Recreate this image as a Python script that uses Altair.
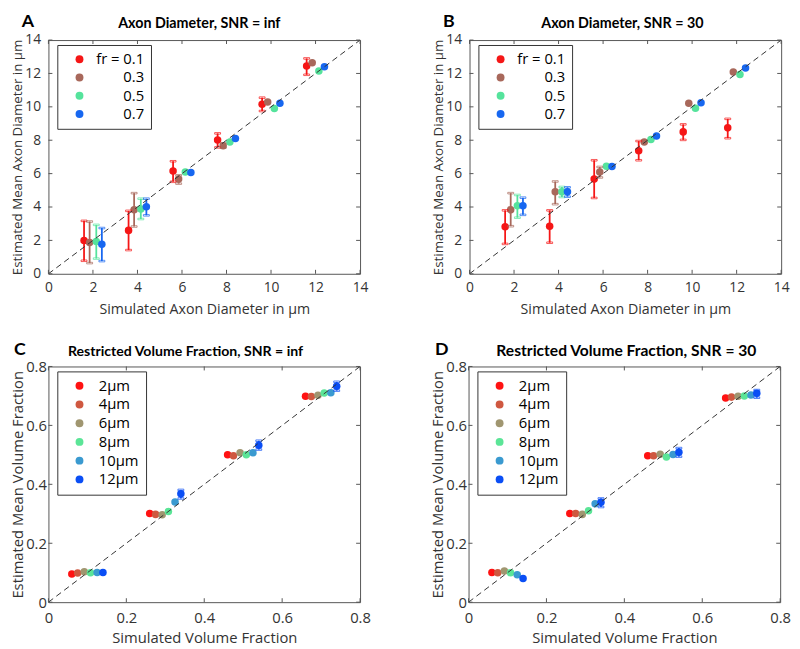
import altair as alt
import pandas as pd

# ---------------- Panels A / B : axon diameter ----------------
fr_labels = ["fr = 0.1", "0.3", "0.5", "0.7"]
fr_colors = ["#F51616", "#A8685B", "#55E39C", "#1767F0"]

# simulated diameter (plotted with a small horizontal offset per fr)
dia_x_fr01 = [1.6, 3.6, 5.6, 7.6, 9.6, 11.6]
dia_x_fr03 = [1.85, 3.85, 5.85, 7.85, 9.85, 11.85]
dia_x_fr05 = [2.15, 4.15, 6.15, 8.15, 10.15, 12.15]
dia_x_fr07 = [2.4, 4.4, 6.4, 8.4, 10.4, 12.4]

# Panel A (SNR = inf)
a_y_fr01 = [2.0, 2.6, 6.16, 8.02, 10.16, 12.45]
a_lo_fr01 = [0.78, 1.42, 5.51, 7.57, 9.75, 11.92]
a_hi_fr01 = [3.17, 3.77, 6.74, 8.41, 10.55, 12.9]
a_y_fr03 = [1.88, 3.84, 5.67, 7.67, 10.29, 12.64]
a_lo_fr03 = [0.64, 2.83, 5.4, 7.55, None, None]
a_hi_fr03 = [3.13, 4.83, 5.9, 7.8, None, None]
a_y_fr05 = [1.94, 3.88, 6.1, 7.9, 9.9, 12.14]
a_lo_fr05 = [0.91, 3.28, None, None, None, None]
a_hi_fr05 = [2.93, 4.5, None, None, None, None]
a_y_fr07 = [1.77, 4.02, 6.06, 8.1, 10.21, 12.4]
a_lo_fr07 = [0.76, 3.5, None, None, None, None]
a_hi_fr07 = [2.74, 4.5, None, None, None, None]

# Panel B (SNR = 30)
b_y_fr01 = [2.82, 2.85, 5.67, 7.37, 8.5, 8.74]
b_lo_fr01 = [1.79, 1.86, 4.54, 6.8, 8.02, 8.12]
b_hi_fr01 = [3.8, 3.8, 6.8, 7.95, 8.95, 9.28]
b_y_fr03 = [3.83, 4.91, 6.1, 7.9, 10.21, 12.08]
b_lo_fr03 = [2.85, 4.17, 5.77, None, None, None]
b_hi_fr03 = [4.83, 5.53, 6.4, None, None, None]
b_y_fr05 = [4.08, 4.91, 6.44, 8.04, 9.92, 11.94]
b_lo_fr05 = [3.36, 4.6, None, None, None, None]
b_hi_fr05 = [4.72, 5.2, None, None, None, None]
b_y_fr07 = [4.08, 4.91, 6.42, 8.25, 10.25, 12.33]
b_lo_fr07 = [3.53, 4.62, None, None, None, None]
b_hi_fr07 = [4.56, 5.18, None, None, None, None]

dia_ticks = [0, 2, 4, 6, 8, 10, 12, 14]

# ---------------- Panels C / D : volume fraction ----------------
um_labels = ["2\u03bcm", "4\u03bcm", "6\u03bcm", "8\u03bcm", "10\u03bcm", "12\u03bcm"]
um_colors = ["#FF1212", "#CF5840", "#A09670", "#5BE597", "#3A9AD0", "#0A4EF5"]

vf_x_2 = [0.06, 0.26, 0.46, 0.66]
vf_x_4 = [0.075, 0.275, 0.475, 0.675]
vf_x_6 = [0.092, 0.292, 0.492, 0.692]
vf_x_8 = [0.108, 0.308, 0.508, 0.708]
vf_x_10 = [0.125, 0.325, 0.525, 0.725]
vf_x_12 = [0.14, 0.34, 0.54, 0.74]

c_y_2 = [0.096, 0.301, 0.5, 0.699]
c_y_4 = [0.099, 0.298, 0.497, 0.698]
c_y_6 = [0.103, 0.297, 0.507, 0.702]
c_y_8 = [0.1, 0.308, 0.5, 0.71]
c_y_10 = [0.101, 0.34, 0.507, 0.711]
c_y_12 = [0.101, 0.368, 0.533, 0.733]
c_lo_12 = [None, 0.352, 0.518, 0.718]
c_hi_12 = [None, 0.381, 0.548, 0.748]

d_y_2 = [0.101, 0.301, 0.497, 0.693]
d_y_4 = [0.1, 0.301, 0.497, 0.696]
d_y_6 = [0.106, 0.298, 0.502, 0.699]
d_y_8 = [0.1, 0.31, 0.493, 0.7]
d_y_10 = [0.093, 0.334, 0.501, 0.703]
d_y_12 = [0.08, 0.339, 0.509, 0.709]
d_lo_12 = [None, 0.323, 0.494, 0.694]
d_hi_12 = [None, 0.352, 0.523, 0.72]

vf_ticks = [0, 0.2, 0.4, 0.6, 0.8]


def frame(series):
    rows = []
    for name, xs, ys, los, his in series:
        for i in range(len(xs)):
            rows.append({"series": name, "x": xs[i], "y": ys[i],
                         "lo": los[i] if los else None,
                         "hi": his[i] if his else None})
    return pd.DataFrame(rows)


df_a = frame([
    (fr_labels[0], dia_x_fr01, a_y_fr01, a_lo_fr01, a_hi_fr01),
    (fr_labels[1], dia_x_fr03, a_y_fr03, a_lo_fr03, a_hi_fr03),
    (fr_labels[2], dia_x_fr05, a_y_fr05, a_lo_fr05, a_hi_fr05),
    (fr_labels[3], dia_x_fr07, a_y_fr07, a_lo_fr07, a_hi_fr07),
])
df_b = frame([
    (fr_labels[0], dia_x_fr01, b_y_fr01, b_lo_fr01, b_hi_fr01),
    (fr_labels[1], dia_x_fr03, b_y_fr03, b_lo_fr03, b_hi_fr03),
    (fr_labels[2], dia_x_fr05, b_y_fr05, b_lo_fr05, b_hi_fr05),
    (fr_labels[3], dia_x_fr07, b_y_fr07, b_lo_fr07, b_hi_fr07),
])
df_c = frame([
    (um_labels[0], vf_x_2, c_y_2, None, None),
    (um_labels[1], vf_x_4, c_y_4, None, None),
    (um_labels[2], vf_x_6, c_y_6, None, None),
    (um_labels[3], vf_x_8, c_y_8, None, None),
    (um_labels[4], vf_x_10, c_y_10, None, None),
    (um_labels[5], vf_x_12, c_y_12, c_lo_12, c_hi_12),
])
df_d = frame([
    (um_labels[0], vf_x_2, d_y_2, None, None),
    (um_labels[1], vf_x_4, d_y_4, None, None),
    (um_labels[2], vf_x_6, d_y_6, None, None),
    (um_labels[3], vf_x_8, d_y_8, None, None),
    (um_labels[4], vf_x_10, d_y_10, None, None),
    (um_labels[5], vf_x_12, d_y_12, d_lo_12, d_hi_12),
])

AX_FONT = "Open Sans"
TITLE_FONT = "Lato"
TXT = "#333333"
BOX = "#555555"


def panel(df, ticks, labels, colors, title, title_fs, title_cx, title_y,
          letter, letter_x, letter_y, xtitle, ytitle, w, h,
          tick_fs, xt_fs, yt_fs, x_lp, x_tp, y_lp, y_ext, leg):
    dom = [ticks[0], ticks[-1]]
    xs = alt.Scale(domain=dom, nice=False, zero=False)
    ys = alt.Scale(domain=dom, nice=False, zero=False)
    cscale = alt.Scale(domain=labels, range=colors)
    fmt = "~g"

    x_axis = alt.Axis(
        title=xtitle, values=ticks, format=fmt, grid=False, ticks=False,
        domain=False, labelFont=AX_FONT, labelFontSize=tick_fs, labelColor=TXT,
        labelPadding=x_lp, titleFont=AX_FONT, titleFontSize=xt_fs,
        titleFontWeight="normal", titleColor=TXT, titlePadding=x_tp,
        labelFlush=False)
    y_axis = alt.Axis(
        title=ytitle, values=ticks, format=fmt, grid=False, ticks=False,
        domain=False, labelFont=AX_FONT, labelFontSize=tick_fs, labelColor=TXT,
        labelPadding=y_lp, titleFont=AX_FONT, titleFontSize=yt_fs,
        titleFontWeight="normal", titleColor=TXT, titlePadding=0,
        minExtent=y_ext, maxExtent=y_ext, labelFlush=False)

    legend_kw = dict(
        title=None, orient="none", legendX=9, legendY=5,
        strokeColor="#333333", fillColor="white", padding=7,
        labelFont=AX_FONT, labelColor="black",
        symbolType="circle", symbolSize=64, symbolStrokeWidth=0,
        symbolOpacity=1, symbolOffset=8, cornerRadius=0,
    )
    legend_kw.update(leg)

    err = df.dropna(subset=["lo"])
    stroke = alt.Stroke("series:N", scale=cscale, legend=None)

    def X(f):
        return alt.X(f, scale=xs, axis=x_axis)

    def Y(f):
        return alt.Y(f, scale=ys, axis=y_axis)

    points = alt.Chart(df).mark_circle(size=58, opacity=1).encode(
        x=X("x:Q"), y=Y("y:Q"),
        color=alt.Color("series:N", scale=cscale, legend=alt.Legend(**legend_kw)),
    )
    rules = alt.Chart(err).mark_rule(strokeWidth=1.8).encode(
        x=X("x:Q"), y=Y("lo:Q"), y2="hi:Q", stroke=stroke)
    cap_lo = alt.Chart(err).mark_tick(orient="horizontal", size=6, thickness=1.6,
                                      filled=False).encode(
        x=X("x:Q"), y=Y("lo:Q"), stroke=stroke)
    cap_hi = alt.Chart(err).mark_tick(orient="horizontal", size=6, thickness=1.6,
                                      filled=False).encode(
        x=X("x:Q"), y=Y("hi:Q"), stroke=stroke)
    diag = alt.Chart(pd.DataFrame({"dx": dom, "dy": dom})).mark_line(
        strokeDash=[6, 4], color="#333333", strokeWidth=1).encode(
        x=X("dx:Q"), y=Y("dy:Q"))
    tdf = pd.DataFrame({"t": ticks})
    tk = dict(color=BOX, strokeWidth=1)
    xt_bot = alt.Chart(tdf).mark_rule(**tk).encode(
        x=X("t:Q"), y=alt.value(h), y2=alt.value(h - 4))
    xt_top = alt.Chart(tdf).mark_rule(**tk).encode(
        x=X("t:Q"), y=alt.value(0), y2=alt.value(4))
    yt_l = alt.Chart(tdf).mark_rule(**tk).encode(
        y=Y("t:Q"), x=alt.value(0), x2=alt.value(4))
    yt_r = alt.Chart(tdf).mark_rule(**tk).encode(
        y=Y("t:Q"), x=alt.value(w - 4), x2=alt.value(w))
    let = alt.Chart(pd.DataFrame({"letter": [letter]})).mark_text(
        font=TITLE_FONT, fontWeight="bold", fontSize=18, align="left",
        baseline="alphabetic", color="black").encode(
        text="letter:N", x=alt.value(letter_x), y=alt.value(letter_y))
    ttl = alt.Chart(pd.DataFrame({"title": [title]})).mark_text(
        font=TITLE_FONT, fontWeight="bold", fontSize=title_fs, align="center",
        baseline="alphabetic", color="black").encode(
        text="title:N", x=alt.value(title_cx), y=alt.value(title_y))

    return alt.layer(points, rules, cap_lo, cap_hi, diag,
                     xt_bot, xt_top, yt_l, yt_r, let, ttl).resolve_scale(
        stroke="independent").properties(width=w, height=h)


WA, HA = 316, 237
WC, HC = 316, 239

LEG_FR = dict(labelFontSize=15, labelAlign="right", labelOffset=58, rowPadding=2.5)
LEG_UM = dict(labelFontSize=15, labelAlign="left", labelOffset=12, rowPadding=3)

pa = panel(df_a, dia_ticks, fr_labels, fr_colors, "Axon Diameter, SNR = inf", 14.5,
           153, -12, "A", -27, -13, "Simulated Axon Diameter in \u03bcm",
           "Estimated Mean Axon Diameter in \u03bcm", WA, HA,
           14, 14.4, 13.5, 7, 8, 8, 24.5, LEG_FR)
pb = panel(df_b, dia_ticks, fr_labels, fr_colors, "Axon Diameter, SNR = 30", 14.5,
           155, -12, "B", -27, -13, "Simulated Axon Diameter in \u03bcm",
           "Estimated Mean Axon Diameter in \u03bcm", WA, HA,
           14, 14.4, 13.5, 7, 8, 8, 24.5, LEG_FR)
pc = panel(df_c, vf_ticks, um_labels, um_colors,
           "Restricted Volume Fraction, SNR = inf", 14.3, 139, -11,
           "C", -35, -12, "Simulated Volume Fraction", "Estimated Mean Volume Fraction",
           WC, HC, 15, 15, 15, 9, 5, 2, 23, LEG_UM)
pd_ = panel(df_d, vf_ticks, um_labels, um_colors,
            "Restricted Volume Fraction, SNR = 30", 15.8, 160, -11,
            "D", -34, -12, "Simulated Volume Fraction", "Estimated Mean Volume Fraction",
            WC, HC, 15, 15, 15, 9, 5, 2, 23, LEG_UM)

top = alt.hconcat(pa, pb, spacing=62).resolve_scale(color="independent")
bottom = alt.hconcat(pc, pd_, spacing=59).resolve_scale(color="independent")

chart = alt.vconcat(top, bottom, spacing=24).resolve_scale(
    color="independent").properties(
    padding={"left": 1, "top": 0, "right": 0, "bottom": 0},
    background="white",
).configure_view(stroke=BOX, strokeWidth=1)

chart.save("out.html", embed_options={"renderer": "svg", "actions": False})
